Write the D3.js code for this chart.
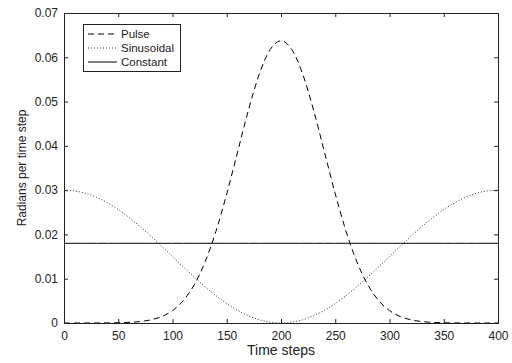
<!DOCTYPE html>
<html><head><meta charset="utf-8">
<script src="https://cdn.jsdelivr.net/npm/d3@7"></script>
<style>
body{margin:0;background:#fff;}
text{font-family:"Liberation Sans",Arial,sans-serif;}
</style></head>
<body><svg id="c" width="512" height="363"></svg>
<script>
const steps = [0,10,20,30,40,50,60,70,80,90,100,110,120,130,140,150,160,170,180,190,200,210,220,230,240,250,260,270,280,290,300,310,320,330,340,350,360,370,380,390,400];
const pulse = [0,0,0,0.00001,0.00002,0.00006,0.00014,0.00032,0.00071,0.00145,0.0028,0.00507,0.00862,0.01378,0.02068,0.02916,0.03864,0.04808,0.05622,0.06174,0.0637,0.06174,0.05622,0.04808,0.03864,0.02916,0.02068,0.01378,0.00862,0.00507,0.0028,0.00145,0.00071,0.00032,0.00014,0.00006,0.00002,0.00001,0,0,0];
const sinusoidal = [0.03,0.02982,0.02927,0.02837,0.02714,0.02561,0.02382,0.02181,0.01964,0.01735,0.015,0.01265,0.01037,0.00819,0.00618,0.00439,0.00287,0.00164,0.00073,0.00019,0,0.00019,0.00073,0.00164,0.00287,0.00439,0.00618,0.00819,0.01037,0.01265,0.015,0.01735,0.01964,0.02181,0.02382,0.02561,0.02714,0.02837,0.02927,0.02982,0.03];
const constant = steps.map(() => 0.018);
const xTicks = [0,50,100,150,200,250,300,350,400];
const yTicks = [0,0.01,0.02,0.03,0.04,0.05,0.06,0.07];
const seriesNames = ["Pulse","Sinusoidal","Constant"];

const svg = d3.select("#c");
const L=64, R=498, T=13, B=323;
const x = d3.scaleLinear().domain([0,400]).range([L,R]);
const y = d3.scaleLinear().domain([0,0.07]).range([B,T]);

const g = svg.append("g");
const styles = [
  {data:pulse, dash:"6,4", color:"#000", w:1},
  {data:sinusoidal, dash:"1,2", color:"#333", w:1},
  {data:constant, dash:null, color:"#000", w:1}
];
const line = d3.line().x((d,i)=>x(steps[i])).y(d=>y(d)).curve(d3.curveMonotoneX);
styles.forEach(s=>{
  g.append("path").attr("d", line(s.data)).attr("fill","none")
   .attr("stroke",s.color).attr("stroke-width",s.w)
   .attr("stroke-dasharray",s.dash);
});

const fs = "12px";
const xb = svg.append("g").attr("transform",`translate(0,${B})`)
  .call(d3.axisBottom(x).tickValues(xTicks).tickSize(-4).tickPadding(8).tickFormat(d3.format("d")));
const xt = svg.append("g").attr("transform",`translate(0,${T})`)
  .call(d3.axisTop(x).tickValues(xTicks).tickSize(-4).tickFormat(""));
const yl = svg.append("g").attr("transform",`translate(${L},0)`)
  .call(d3.axisLeft(y).tickValues(yTicks).tickSize(-4).tickPadding(6).tickFormat(d=>d===0?"0":d3.format(".2f")(d)));
const yr = svg.append("g").attr("transform",`translate(${R},0)`)
  .call(d3.axisRight(y).tickValues(yTicks).tickSize(-4).tickFormat(""));
[xb,xt,yl,yr].forEach(a=>{
  a.selectAll(".domain").attr("stroke","#222").attr("stroke-width",1);
  a.selectAll(".tick line").attr("stroke","#222");
  a.selectAll("text").attr("font-size",fs).attr("fill","#222").style("font-family","'Liberation Sans',Arial,sans-serif");
});

svg.append("text").attr("x",(L+R)/2).attr("y",355).attr("text-anchor","middle")
  .attr("font-size","14px").attr("fill","#222").text("Time steps");
svg.append("text").attr("transform",`translate(25.5,${(T+B)/2}) rotate(-90)`).attr("text-anchor","middle")
  .attr("font-size","12px").attr("fill","#222").text("Radians per time step");

const lg = svg.append("g");
lg.append("rect").attr("x",83.5).attr("y",24.5).attr("width",97).attr("height",47)
  .attr("fill","#fff").attr("stroke","#222").attr("stroke-width",1);
const ly = [34,48,62];
seriesNames.forEach((n,i)=>{
  lg.append("line").attr("x1",88).attr("x2",117).attr("y1",ly[i]).attr("y2",ly[i])
    .attr("stroke",styles[i].color).attr("stroke-width",1).attr("stroke-dasharray",styles[i].dash);
  lg.append("text").attr("x",121).attr("y",ly[i]+4).attr("font-size","11.5px").attr("fill","#222").text(n);
});
</script></body></html>
